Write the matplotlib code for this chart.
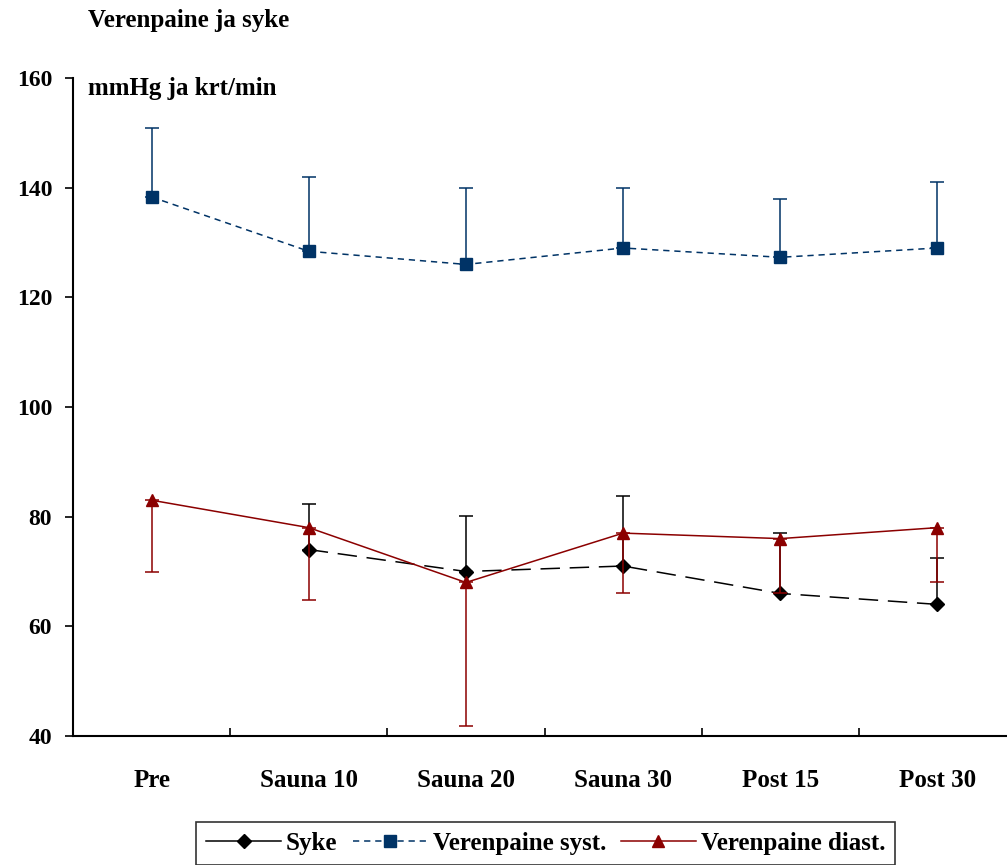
import numpy as np
import matplotlib.pyplot as plt
from matplotlib.lines import Line2D

plt.rcParams['font.family'] = ['Liberation Serif', 'DejaVu Serif']
plt.rcParams['font.weight'] = 'bold'
plt.rcParams['lines.scale_dashes'] = False

categories = ['Pre', 'Sauna 10', 'Sauna 20', 'Sauna 30', 'Post 15', 'Post 30']

syke = [np.nan, 74, 70, 71, 66, 64]
syke_err = [0, 8.4, 10.2, 12.8, 11, 8.5]

syst = [138.3, 128.4, 126, 129, 127.3, 129]
syst_err = [12.6, 13.6, 14, 11, 10.7, 12]

diast = [83, 78, 68, 77, 76, 78]
diast_err = [13, 13.2, 26.2, 11, 10, 10]

navy = '#003366'
red = '#8b0000'

fig = plt.figure(figsize=(10.07, 8.65), dpi=100)
ax = fig.add_axes([73 / 1007, 129 / 865, 943 / 1007, 658 / 865])

x = np.arange(len(categories))
zeros = np.zeros(len(x))

ax.errorbar(x, syke, yerr=[zeros, syke_err], color='black', lw=1.1,
            ls=(0, (14, 7)), marker='D', ms=7, capsize=5, capthick=1.1,
            elinewidth=1.1, zorder=3)
ax.errorbar(x, syst, yerr=[zeros, syst_err], color=navy, lw=1.1,
            ls=(0, (4.5, 3.5)), marker='s', ms=8, capsize=5, capthick=1.1,
            elinewidth=1.1, zorder=4)
ax.errorbar(x, diast, yerr=[diast_err, zeros], color=red, lw=1.1,
            ls='-', marker='^', ms=9, capsize=5, capthick=1.1,
            elinewidth=1.1, zorder=5)

ax.set_xlim(-0.5, 5.5)
ax.set_ylim(40, 160)
ax.set_yticks(np.arange(40, 161, 20))
ax.set_xticks(x)
ax.set_xticklabels(categories)
ax.set_xticks(np.arange(0.5, 5, 1), minor=True)
ax.tick_params(axis='x', which='major', length=0, pad=24, labelsize=18)
ax.tick_params(axis='x', which='minor', direction='in', length=6, width=1.2)
ax.tick_params(axis='y', direction='out', length=6, width=1.2, pad=9,
               labelsize=17)
for s in ['top', 'right']:
    ax.spines[s].set_visible(False)
for s in ['left', 'bottom']:
    ax.spines[s].set_linewidth(1.5)

fig.text(88 / 1007, 1 - 20 / 865, 'Verenpaine ja syke', fontsize=18,
         ha='left', va='center')
fig.text(88 / 1007, 1 - 88 / 865, 'mmHg ja krt/min', fontsize=18,
         ha='left', va='center')

handles = [
    Line2D([], [], color='black', lw=1.1, marker='D', ms=7),
    Line2D([], [], color=navy, lw=1.1, ls=(0, (4.5, 3.5)), marker='s', ms=8),
    Line2D([], [], color=red, lw=1.1, marker='^', ms=9),
]
leg = fig.legend(handles, ['Syke', 'Verenpaine syst.', 'Verenpaine diast.'],
                 loc='upper center', bbox_to_anchor=(0.542, 1 - 822 / 865),
                 ncol=3, fontsize=18, frameon=True, fancybox=False,
                 handlelength=3, handletextpad=0.2, columnspacing=0.6,
                 borderpad=0.4, borderaxespad=0)
leg.get_frame().set_edgecolor('black')
leg.get_frame().set_linewidth(1.2)

fig.savefig('out.png', dpi=100)
